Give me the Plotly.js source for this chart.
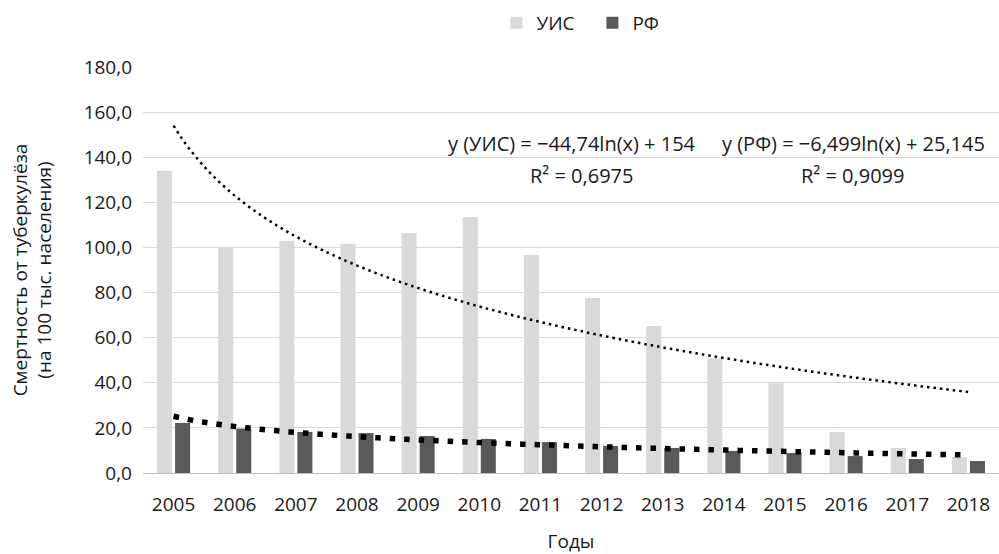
<!DOCTYPE html>
<html>
<head>
<meta charset="utf-8">
<script src="https://cdn.plot.ly/plotly-3.0.1.min.js"></script>
<style>html,body{margin:0;padding:0;background:#fff;}#chart{width:999px;height:554px;}</style>
</head>
<body>
<div id="chart"></div>
<script>
var years = [2005, 2006, 2007, 2008, 2009, 2010, 2011, 2012, 2013, 2014, 2015, 2016, 2017, 2018];
var uis = [134.0, 100.2, 103.0, 101.6, 106.4, 113.5, 96.7, 77.6, 65.2, 50.9, 39.8, 18.2, 11.1, 7.1];
var rf = [22.2, 19.7, 18.2, 17.7, 16.4, 15.1, 13.7, 12.0, 11.1, 9.8, 8.9, 7.5, 6.2, 5.3];
var seriesNames = ['УИС', 'РФ'];
// Trendline coefficients as printed on the chart: y = a*ln(x) + b
var trendUIS = {a: -44.74, b: 154, r2: '0,6975'};
var trendRF = {a: -6.499, b: 25.145, r2: '0,9099'};
var yTicks = [0, 20, 40, 60, 80, 100, 120, 140, 160, 180];

function trend(c) {
  var xs = [], ys = [];
  for (var i = 0; i < years.length; i++) {
    for (var s = 0; s < 10; s++) {
      var t = i + 1 + s / 10;
      if (t > years.length) break;
      xs.push(years[0] + t - 1);
      ys.push(c.a * Math.log(t) + c.b);
    }
  }
  return {x: xs, y: ys};
}
var tu = trend(trendUIS), tr = trend(trendRF);
var font = 'Open Sans, Noto Sans, sans-serif';
var txt = '#1a1a1a';

var data = [
  {type: 'bar', name: seriesNames[0], x: years, y: uis, marker: {color: '#d9d9d9'}},
  {type: 'bar', name: seriesNames[1], x: years, y: rf, marker: {color: '#595959'}},
  {type: 'scatter', mode: 'lines', x: tu.x, y: tu.y, showlegend: false, hoverinfo: 'skip',
   line: {color: '#000', width: 2.5, dash: '2.5px,4px', shape: 'spline'}},
  {type: 'scatter', mode: 'lines', x: tr.x, y: tr.y, showlegend: false, hoverinfo: 'skip',
   line: {color: '#000', width: 5.5, dash: '5.5px,9px', shape: 'spline'}}
];

function fmt(v) { return String(v).replace('.', ','); }
var annText1 = 'y (' + seriesNames[0] + ') = −' + fmt(-trendUIS.a) + 'ln(x) + ' + fmt(trendUIS.b);
var annText2 = 'y (' + seriesNames[1] + ') = −' + fmt(-trendRF.a) + 'ln(x) + ' + fmt(trendRF.b);

function px(p) { return (p - 143) / 856; }
function py(p) { return (473 - p) / 406; }
var af = {family: font, size: 20, color: txt};

var layout = {
  width: 999, height: 554,
  margin: {l: 143, r: 0, t: 67, b: 81},
  paper_bgcolor: '#fff', plot_bgcolor: '#fff',
  font: {family: font, size: 19, color: txt},
  barmode: 'group', bargap: 0.41, bargroupgap: 0.167,
  showlegend: true,
  legend: {orientation: 'h', x: 0.593, xref: 'container', xanchor: 'center', y: 0.993, yref: 'container', yanchor: 'top',
           font: {family: font, size: 19, color: txt}, entrywidth: 51, entrywidthmode: 'pixels', itemgap: 0},
  xaxis: {
    range: [2004.5, 2018.5], tickmode: 'array', tickvals: years, ticktext: years.map(String),
    showgrid: false, zeroline: false, showline: true, linecolor: '#bfbfbf', linewidth: 1,
    ticks: '', ticklabelstandoff: 14, tickfont: {family: font, size: 19, color: txt},
    title: {text: 'Годы', font: {family: font, size: 19, color: txt}, standoff: 22}
  },
  yaxis: {
    range: [0, 180], tickmode: 'array', tickvals: yTicks, ticktext: yTicks.map(function (v) { return v.toFixed(1).replace('.', ','); }),
    showgrid: true, gridcolor: '#d9d9d9', gridwidth: 1, zeroline: false, showline: false,
    ticks: '', ticklabelstandoff: 10, tickfont: {family: font, size: 19, color: txt},
    title: {text: 'Смертность от туберкулёза<br>(на 100 тыс. населения)', font: {family: font, size: 19, color: txt}, standoff: 26}
  },
  annotations: [
    {xref: 'paper', yref: 'paper', x: px(572), y: py(143), text: annText1, showarrow: false, xanchor: 'center', yanchor: 'middle', font: af},
    {xref: 'paper', yref: 'paper', x: px(581), y: py(175), text: 'R² = ' + trendUIS.r2, showarrow: false, xanchor: 'center', yanchor: 'middle', font: af},
    {xref: 'paper', yref: 'paper', x: px(853), y: py(143), text: annText2, showarrow: false, xanchor: 'center', yanchor: 'middle', font: af},
    {xref: 'paper', yref: 'paper', x: px(852), y: py(175), text: 'R² = ' + trendRF.r2, showarrow: false, xanchor: 'center', yanchor: 'middle', font: af}
  ]
};

Plotly.newPlot('chart', data, layout, {displayModeBar: false, staticPlot: true});
</script>
</body>
</html>
